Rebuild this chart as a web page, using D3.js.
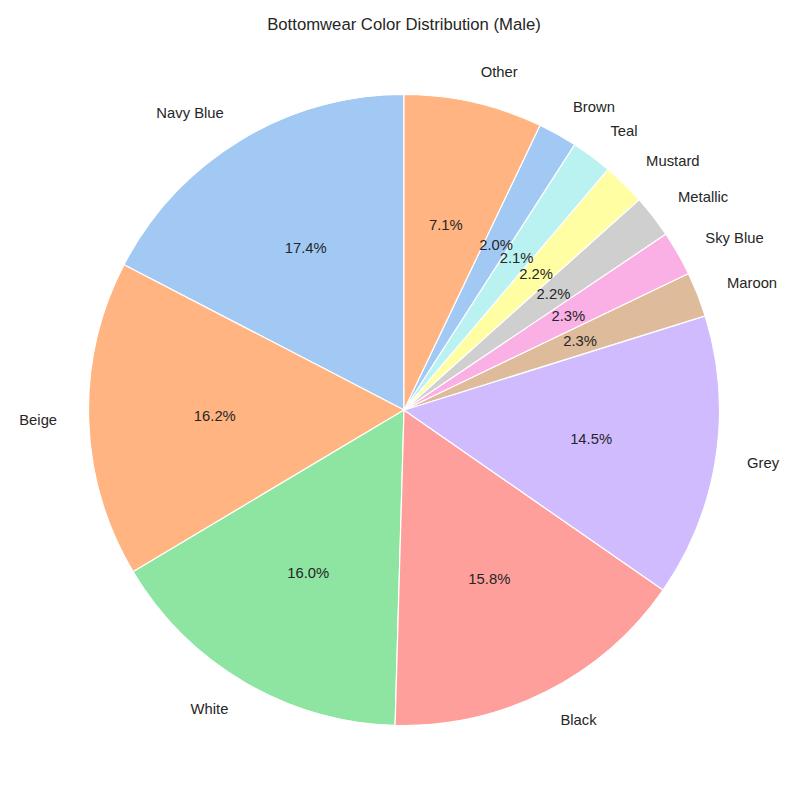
<!DOCTYPE html>
<html>
<head>
<meta charset="utf-8">
<script src="https://cdn.jsdelivr.net/npm/d3@7"></script>
<style>
  html, body { margin: 0; padding: 0; background: #fff; }
  svg { display: block; }
  text { font-family: "Liberation Sans", Arial, sans-serif; fill: #262626; }
</style>
</head>
<body>
<svg id="chart" width="800" height="800"></svg>
<script>
const categories = ["Navy Blue", "Beige", "White", "Black", "Grey", "Maroon", "Sky Blue", "Metallic", "Mustard", "Teal", "Brown", "Other"];
const values = [17.4, 16.2, 16.0, 15.8, 14.5, 2.3, 2.3, 2.2, 2.2, 2.1, 2.0, 7.1];
const palette = ["#a1c9f4", "#ffb482", "#8de5a1", "#ff9f9b", "#d0bbff", "#debb9b", "#fab0e4", "#cfcfcf", "#fffea3", "#b9f2f0"];
const title = "Bottomwear Color Distribution (Male)";

const width = 800, height = 800;
const cx = 404, cy = 410, r = 315.5;
const svg = d3.select("#chart");

const data = categories.map((c, i) => ({ name: c, value: values[i], idx: i }));
const total = d3.sum(values);

const pie = d3.pie().value(d => d.value).sort(null).startAngle(0).endAngle(-2 * Math.PI);
const arcs = pie(data);
const arc = d3.arc().innerRadius(0).outerRadius(r);
const color = i => palette[i % palette.length];

const g = svg.append("g").attr("transform", `translate(${cx},${cy})`);

g.selectAll("path.wedge").data(arcs).join("path")
  .attr("class", "wedge")
  .attr("d", arc)
  .attr("fill", d => color(d.data.idx))
  .attr("stroke", "#ffffff")
  .attr("stroke-width", 1.2)
  .attr("stroke-linejoin", "round");

function pos(d, k) {
  const a = (d.startAngle + d.endAngle) / 2; // d3 angle: clockwise from top
  return [Math.sin(a) * r * k, -Math.cos(a) * r * k];
}

g.selectAll("text.label").data(arcs).join("text")
  .attr("class", "label")
  .attr("x", d => pos(d, 1.1)[0])
  .attr("y", d => pos(d, 1.1)[1])
  .attr("text-anchor", d => pos(d, 1.1)[0] > 0 ? "start" : "end")
  .attr("dominant-baseline", "central")
  .style("font-size", "14.8px")
  .text(d => d.data.name);

g.selectAll("text.pct").data(arcs).join("text")
  .attr("class", "pct")
  .attr("x", d => pos(d, 0.6)[0])
  .attr("y", d => pos(d, 0.6)[1])
  .attr("text-anchor", "middle")
  .attr("dominant-baseline", "central")
  .style("font-size", "14.8px")
  .text(d => (d.data.value / total * 100).toFixed(1) + "%");

svg.append("text")
  .attr("x", cx)
  .attr("y", 24)
  .attr("text-anchor", "middle")
  .attr("dominant-baseline", "central")
  .style("font-size", "16.7px")
  .text(title);
</script>
</body>
</html>
